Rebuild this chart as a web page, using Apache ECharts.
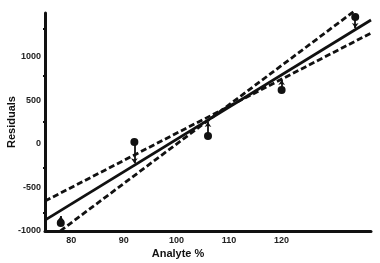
<!DOCTYPE html>
<html>

<head>
    <meta charset="utf-8" />
    <script src="https://cdn.jsdelivr.net/npm/echarts@6/dist/echarts.min.js"></script>
</head>

<body style="margin:0;">
    <div id="main" style="width: 380px; height:263px;"></div>
    <script type="text/javascript">
        var analyte = [78, 92, 106, 120, 134];
        var residuals = [-908, 21, 89, 617, 1454];
        // where each residual stem ends (arrow tip)
        var stemEnds = [-828, -222, 250, 732, 1328];
        var fitLine = [[75, -875], [137, 1420]];
        var bandShallow = [[75, -657], [137, 1270]];
        var bandSteep = [[77.9, -1000], [134.1, 1534]];
        var xLabels = [80, 90, 100, 110, 120];
        var xTicks = [78, 92, 106, 120, 134];
        var yLabels = [-1000, -500, 0, 500, 1000];
        var yTicks = [-794, -278, 250, 778, 1317];

        var myChart = echarts.init(document.getElementById('main'));

        var points = analyte.map(function (x, i) { return [x, residuals[i]]; });
        var stems = analyte.map(function (x, i) {
            return { coords: [[x, residuals[i]], [x, stemEnds[i]]] };
        });

        var option = {
            animation: false,
            grid: { left: 45, top: 13, right: 9, bottom: 32, outerBoundsMode: 'none', containLabel: false },
            xAxis: {
                type: 'value',
                min: 75,
                max: 137,
                name: 'Analyte %',
                nameLocation: 'middle',
                nameGap: 17,
                nameMoveOverlap: false,
                nameTextStyle: {
                    fontFamily: 'Liberation Sans', fontWeight: 'bold', fontSize: 11,
                    color: '#111', padding: [0, 60, 0, 0]
                },
                axisLine: { onZero: false, lineStyle: { color: '#111', width: 3 } },
                axisTick: { customValues: xTicks, length: 2, lineStyle: { color: '#111', width: 2 } },
                axisLabel: {
                    customValues: xLabels, margin: 5,
                    fontFamily: 'Liberation Sans', fontWeight: 'bold', fontSize: 9, color: '#222'
                },
                splitLine: { show: false }
            },
            yAxis: {
                type: 'value',
                min: -1000,
                max: 1500,
                name: 'Residuals',
                nameLocation: 'middle',
                nameGap: 28,
                nameMoveOverlap: false,
                nameTextStyle: {
                    fontFamily: 'Liberation Sans', fontWeight: 'bold', fontSize: 11, color: '#111'
                },
                axisLine: { show: true, onZero: false, lineStyle: { color: '#111', width: 3 } },
                axisTick: { show: true, customValues: yTicks, length: 2, lineStyle: { color: '#111', width: 2 } },
                axisLabel: {
                    customValues: yLabels, margin: 4,
                    formatter: function (v) { return String(v); },
                    fontFamily: 'Liberation Sans', fontWeight: 'bold', fontSize: 9, color: '#222'
                },
                splitLine: { show: false }
            },
            series: [
                {
                    type: 'line', data: fitLine, symbol: 'none',
                    lineStyle: { color: '#111', width: 2.8 }
                },
                {
                    type: 'line', data: bandShallow, symbol: 'none',
                    lineStyle: { color: '#111', width: 2.8, type: [6, 3] }
                },
                {
                    type: 'line', data: bandSteep, symbol: 'none', clip: false,
                    lineStyle: { color: '#111', width: 2.8, type: [6, 3] }
                },
                {
                    type: 'lines', coordinateSystem: 'cartesian2d', data: stems,
                    symbol: ['none', 'arrow'], symbolSize: 5,
                    lineStyle: { color: '#111', width: 1.8, opacity: 1 }
                },
                {
                    type: 'scatter', data: points, symbol: 'circle', symbolSize: 8,
                    itemStyle: { color: '#111', opacity: 1 }
                }
            ]
        };

        myChart.setOption(option);
    </script>
</body>

</html>
